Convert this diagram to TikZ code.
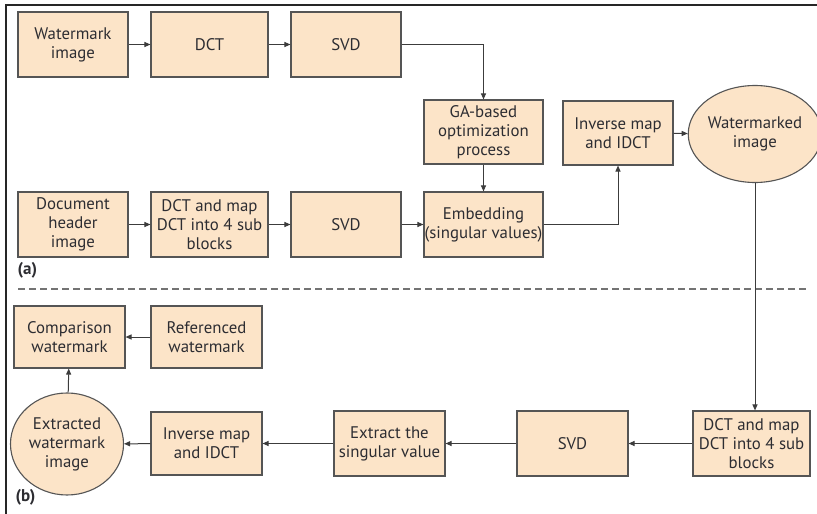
\documentclass[tikz,border=0pt]{standalone}
\usepackage{fontspec}
\setmainfont{PT Sans}
\usetikzlibrary{arrows.meta,shapes.geometric}
\definecolor{boxfill}{RGB}{252,228,200}
\definecolor{boxline}{RGB}{85,85,85}
\definecolor{txt}{RGB}{45,45,50}
\definecolor{arr}{RGB}{60,60,60}
\begin{document}
\begin{tikzpicture}[x=1pt,y=-1pt,
  every node/.style={font=\fontsize{16.8}{19}\selectfont, text=txt},
  blk/.style={draw=boxline, fill=boxfill, line width=1.1pt, align=center, inner sep=0pt},
  oval/.style={ellipse, draw=boxline, fill=boxfill, line width=1.1pt, align=center, inner sep=0pt},
  conn/.style={draw=arr, line width=1pt, -{Triangle[length=6pt,width=5pt]}},
  lbl/.style={font=\bfseries\fontsize{17}{19}\selectfont, anchor=west}]
\useasboundingbox (0,0) rectangle (817,514);
% frame
\draw[line width=2pt, color=black!85] (6,514) -- (6,5) -- (817,5);
% top row
\node[blk, minimum width=110pt, minimum height=65pt] (wm) at (73,44.5) {Watermark\\image};
\node[blk, minimum width=117pt, minimum height=65pt] (dct1) at (209.5,44.5) {DCT};
\node[blk, minimum width=110pt, minimum height=65pt] (svd1) at (346,44.5) {SVD};
\node[blk, minimum width=119pt, minimum height=64pt] (ga) at (483.5,132) {GA-based\\optimization\\process};
\node[blk, minimum width=110pt, minimum height=64pt] (inv1) at (618,133) {Inverse map\\and IDCT};
\node[oval, minimum width=107pt, minimum height=97pt] (wmd) at (755,134) {Watermarked\\image};
% second row
\node[blk, minimum width=110pt, minimum height=65pt] (doc) at (73,224.5) {Document\\header\\image};
\node[blk, minimum width=117pt, minimum height=65pt] (dct2) at (209.5,224.5) {DCT and map\\DCT into 4 sub\\blocks};
\node[blk, minimum width=110pt, minimum height=65pt] (svd2) at (346,224.5) {SVD};
\node[blk, minimum width=119pt, minimum height=65pt] (emb) at (483.5,224.5) {Embedding\\(singular values)};
\node[lbl] (la) at (14,270) {(a)};
% dashed separator
\coordinate (dl) at (18,289);
\coordinate (dr) at (807,289);
\draw[draw=black!55, line width=1.3pt, dash pattern=on 7pt off 4pt] (dl) -- (dr);
% bottom part
\node[blk, minimum width=111pt, minimum height=62pt] (cmp) at (69.5,337) {Comparison\\watermark};
\node[blk, minimum width=111pt, minimum height=62pt] (ref) at (206.5,337) {Referenced\\watermark};
\node[oval, minimum width=113pt, minimum height=102pt] (ext) at (67,444) {Extracted\\watermark\\image};
\node[blk, minimum width=111pt, minimum height=63pt] (inv2) at (206.5,443.5) {Inverse map\\and IDCT};
\node[blk, minimum width=111pt, minimum height=65pt] (extr) at (389.5,443.5) {Extract the\\singular value};
\node[blk, minimum width=111pt, minimum height=65pt] (svd3) at (572.5,443.5) {SVD};
\node[blk, minimum width=117pt, minimum height=65pt] (dct3) at (751.5,443.5) {DCT and map\\DCT into 4 sub\\blocks};
\node[lbl] (lb) at (12,497) {(b)};
% connectors
\draw[conn] (wm) -- (dct1);
\draw[conn] (dct1) -- (svd1);
\draw[conn] (svd1.east) -| (ga.north);
\draw[conn] (ga) -- (emb);
\draw[conn] (doc) -- (dct2);
\draw[conn] (dct2) -- (svd2);
\draw[conn] (svd2) -- (emb);
\draw[conn] (emb.east) -| (inv1.south);
\draw[conn] (inv1) -- (wmd);
\draw[conn] (wmd.south) -- (wmd.south |- dct3.north);
\draw[conn] (dct3) -- (svd3);
\draw[conn] (svd3) -- (extr);
\draw[conn] (extr) -- (inv2);
\draw[conn] (inv2) -- (ext);
\draw[conn] (ext) -- (cmp);
\draw[conn] (ref) -- (cmp);
\end{tikzpicture}
\end{document}
